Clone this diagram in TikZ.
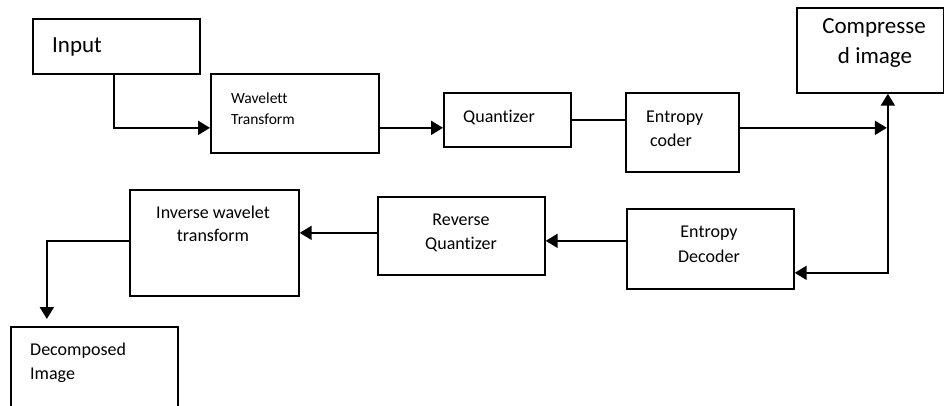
\documentclass[tikz,border=0pt]{standalone}
\usepackage{fontspec}
\setmainfont{Carlito}[Ligatures=NoCommon]
\usetikzlibrary{arrows.meta}
\begin{document}
\begin{tikzpicture}[x=1pt,y=-1pt,
  box/.style={draw,line width=1.7pt,inner sep=0pt,anchor=north west},
  lbl/.style={inner sep=0pt},
  big/.style={font=\fontsize{23}{28}\selectfont},
  mid/.style={font=\fontsize{18}{22}\selectfont},
  small/.style={font=\fontsize{15.5}{19}\selectfont},
  link/.style={line width=2pt},
  tip/.tip={Triangle[length=12pt,width=14pt]},
  arr/.style={link,-tip},
]
\clip (0,0) rectangle (944,405);

% blocks
\node[box,minimum width=167pt,minimum height=55pt]  (input)  at (32,18)  {};
\node[box,minimum width=168pt,minimum height=79pt]  (wav)    at (210,73) {};
\node[box,minimum width=127pt,minimum height=54pt]  (quant)  at (443,92) {};
\node[box,minimum width=113pt,minimum height=79pt]  (ent)    at (625,92) {};
\node[box,minimum width=147pt,minimum height=85pt]  (comp)   at (796,7)  {};
\node[box,minimum width=167pt,minimum height=80pt]  (dec)    at (626,208) {};
\node[box,minimum width=167pt,minimum height=78pt]  (rq)     at (377,196) {};
\node[box,minimum width=169pt,minimum height=106pt] (iw)     at (129,189) {};
\node[box,minimum width=167pt,minimum height=95pt]  (decomp) at (10,326) {};

% labels
\node[lbl,big,anchor=base west]   (t-input) at (52,52)  {Input};
\node[lbl,small,anchor=base west] (t-wav1)  at (231,103) {Wavelett};
\node[lbl,small,anchor=base west] (t-wav2)  at (231,124) {Transform};
\node[lbl,mid,anchor=base west]   (t-quant) at (463,122) {Quantizer};
\node[lbl,mid,anchor=base west]   (t-ent1)  at (646,122) {Entropy};
\node[lbl,mid,anchor=base west]   (t-ent2)  at (650,146) {coder};
\node[lbl,big,anchor=base]        (t-comp1) at (874,33)  {Compresse};
\node[lbl,big,anchor=base]        (t-comp2) at (875,63)  {d image};
\node[lbl,mid,anchor=base]        (t-dec1)  at (709,237) {Entropy};
\node[lbl,mid,anchor=base]        (t-dec2)  at (709,262) {Decoder};
\node[lbl,mid,anchor=base]        (t-rq1)   at (461,225) {Reverse};
\node[lbl,mid,anchor=base]        (t-rq2)   at (461,249) {Quantizer};
\node[lbl,mid,anchor=base]        (t-iw1)   at (213,218) {Inverse wavelet};
\node[lbl,mid,anchor=base]        (t-iw2)   at (213,241) {transform};
\node[lbl,mid,anchor=base west]   (t-dc1)   at (30,355)  {Decomposed};
\node[lbl,mid,anchor=base west]   (t-dc2)   at (30,379)  {Image};

% connectors
\coordinate (bus) at ([xshift=17.5pt]comp.south);
\draw[arr] ([xshift=-2.5pt]input.south) |- ([yshift=-14.5pt]wav.west);
\draw[arr] ([yshift=-14.5pt]wav.east) -- ([yshift=-14.5pt]wav.east -| quant.west);
\draw[link] (quant.east) -- (quant.east -| ent.west);
\draw[arr,shorten >=1pt] ([yshift=4.5pt]ent.east) -- ([yshift=4.5pt]ent.east -| bus);
\draw[link,tip-tip] (bus) |- ([yshift=-24pt]dec.east);
\draw[arr] ([yshift=8pt]dec.west) -- ([yshift=8pt]dec.west -| rq.east);
\draw[arr] ([yshift=3pt]rq.west) -- ([yshift=3pt]rq.west -| iw.east);
\draw[arr,shorten >=7pt] ([yshift=2pt]iw.west) -| ([xshift=-47.5pt]decomp.north);
\end{tikzpicture}
\end{document}
